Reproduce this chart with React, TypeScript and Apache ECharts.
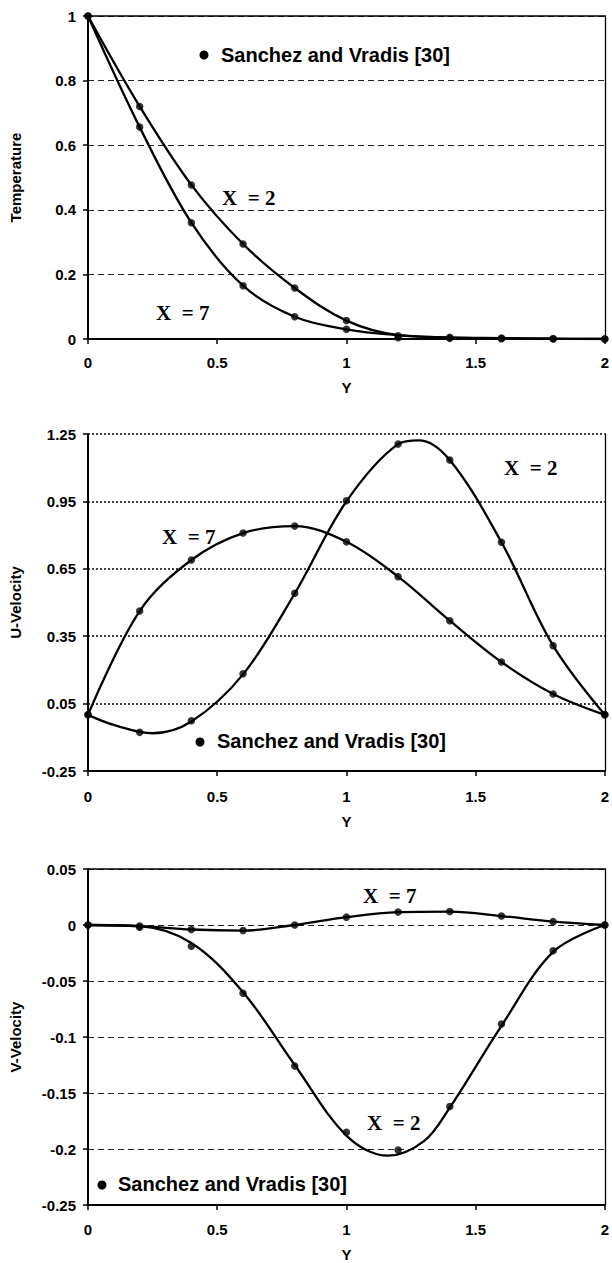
import React, { useEffect, useRef } from "react";
import * as echarts from "echarts";

// ---------- Data ----------
const Y_POS = [0, 0.2, 0.4, 0.6, 0.8, 1.0, 1.2, 1.4, 1.6, 1.8, 2.0];

// Sanchez and Vradis [30] reference points
const tempRefX2 = [1, 0.72, 0.477, 0.294, 0.158, 0.057, 0.01, 0.005, 0.003, 0.001, 0];
const tempRefX7 = [1, 0.656, 0.36, 0.165, 0.069, 0.03, 0.004, 0.002, 0.001, 0.0005, 0];
const uRefX2 = [0, -0.078, -0.026, 0.183, 0.541, 0.953, 1.205, 1.134, 0.768, 0.308, 0];
const uRefX7 = [0, 0.462, 0.689, 0.809, 0.84, 0.77, 0.615, 0.419, 0.235, 0.093, 0];
const vRefX2 = [0, -0.001, -0.019, -0.061, -0.126, -0.185, -0.201, -0.162, -0.0885, -0.023, 0];
const vRefX7 = [0, -0.002, -0.004, -0.005, 0.0, 0.007, 0.0115, 0.012, 0.008, 0.003, 0];

// Present curves, [Y, value]
const tempCurveX2: [number, number][] = [[0, 1], [0.2, 0.72], [0.4, 0.477], [0.6, 0.294], [0.8, 0.158], [1.0, 0.057], [1.2, 0.012], [1.4, 0.005], [1.6, 0.003], [1.8, 0.001], [2, 0]];
const tempCurveX7: [number, number][] = [[0, 1], [0.2, 0.656], [0.4, 0.36], [0.6, 0.165], [0.8, 0.069], [1.0, 0.03], [1.2, 0.012], [1.4, 0.004], [1.6, 0.002], [1.8, 0.001], [2, 0]];
const uCurveX2: [number, number][] = [[0, 0], [0.1, -0.045], [0.25, -0.082], [0.4, -0.03], [0.6, 0.18], [0.8, 0.54], [1.0, 0.95], [1.2, 1.205], [1.28, 1.222], [1.4, 1.134], [1.6, 0.768], [1.8, 0.308], [2, 0]];
const uCurveX7: [number, number][] = [[0, 0], [0.2, 0.462], [0.4, 0.689], [0.6, 0.809], [0.8, 0.84], [1.0, 0.77], [1.2, 0.615], [1.4, 0.419], [1.6, 0.235], [1.8, 0.093], [2, 0]];
const vCurveX2: [number, number][] = [[0, 0], [0.2, -0.001], [0.4, -0.016], [0.6, -0.06], [0.8, -0.125], [1.0, -0.188], [1.16, -0.206], [1.3, -0.193], [1.4, -0.163], [1.6, -0.09], [1.8, -0.024], [2, 0]];
const vCurveX7: [number, number][] = [[0, 0], [0.2, -0.001], [0.4, -0.004], [0.6, -0.005], [0.8, 0], [1.0, 0.007], [1.2, 0.0115], [1.4, 0.012], [1.6, 0.008], [1.8, 0.003], [2, 0]];

const Y_AXIS_NAMES = ["Temperature", "U-Velocity", "V-Velocity"];
const Y_RANGES = [
  { min: 0, max: 1, interval: 0.2 },
  { min: -0.25, max: 1.25, interval: 0.3 },
  { min: -0.25, max: 0.05, interval: 0.05 },
];
const LEGEND_TEXT = "Sanchez and Vradis [30]";

// ---------- Styling ----------
const SANS = '"Liberation Sans", Arial, sans-serif';
const SERIF = '"Liberation Serif", "Times New Roman", serif';

const GRIDS = [
  { left: 86, top: 16, width: 520, height: 323 },
  { left: 86, top: 434, width: 520, height: 337 },
  { left: 86, top: 869, width: 520, height: 338 },
];
const LABEL_MARGIN = [16, 18, 17];
const NAME_GAP = [41, 43, 42];
const SPLIT_STYLES = [
  { type: [6, 4], width: 1, color: "#222" },
  { type: [2, 2], width: 1.6, color: "#000" },
  { type: [6, 4], width: 1, color: "#222" },
];

const fmt = (v: number) => String(parseFloat(Number(v).toFixed(2)));

function zip(ys: number[]): [number, number][] {
  return Y_POS.map((x, i) => [x, ys[i]]);
}

export default function App() {
  const ref = useRef<HTMLDivElement>(null);

  useEffect(() => {
    if (!ref.current) return;
    const chart = echarts.init(ref.current, null, { renderer: "svg" });

    const xAxis: any[] = [];
    const yAxis: any[] = [];
    GRIDS.forEach((_, i) => {
      xAxis.push({
        type: "value",
        gridIndex: i,
        position: "bottom",
        min: 0,
        max: 2,
        interval: 0.5,
        axisLine: { show: true, onZero: false, lineStyle: { color: "#000", width: 2 } },
        axisTick: { show: true, length: 5, lineStyle: { color: "#000", width: 1.5 } },
        axisLabel: {
          margin: LABEL_MARGIN[i],
          fontSize: 15,
          fontWeight: "bold",
          fontFamily: SANS,
          color: "#000",
          formatter: fmt,
        },
        splitLine: { show: false },
        name: "Y",
        nameLocation: "middle",
        nameGap: NAME_GAP[i],
        nameTextStyle: { fontSize: 15, fontWeight: "bold", fontFamily: SANS, color: "#000" },
      });
    });
    // top border axes for charts 1 and 3
    [0, 2].forEach((i) => {
      xAxis.push({
        type: "value",
        gridIndex: i,
        position: "top",
        min: 0,
        max: 2,
        axisLine: { show: true, onZero: false, lineStyle: { color: "#000", width: 1.6 } },
        axisTick: { show: false },
        axisLabel: { show: false },
        splitLine: { show: false },
      });
    });
    GRIDS.forEach((_, i) => {
      yAxis.push({
        type: "value",
        gridIndex: i,
        position: "left",
        min: Y_RANGES[i].min,
        max: Y_RANGES[i].max,
        interval: Y_RANGES[i].interval,
        axisLine: { show: true, onZero: false, lineStyle: { color: "#000", width: 2 } },
        axisTick: { show: true, length: 5, lineStyle: { color: "#000", width: 1.5 } },
        axisLabel: {
          margin: 12,
          fontSize: 15,
          fontWeight: "bold",
          fontFamily: SANS,
          color: "#000",
          formatter: fmt,
        },
        splitLine: { show: true, lineStyle: SPLIT_STYLES[i] },
        name: Y_AXIS_NAMES[i],
        nameLocation: "middle",
        nameGap: 65,
        nameTextStyle: { fontSize: 15, fontWeight: "bold", fontFamily: SANS, color: "#000" },
      });
    });
    GRIDS.forEach((_, i) => {
      yAxis.push({
        type: "value",
        gridIndex: i,
        position: "right",
        min: Y_RANGES[i].min,
        max: Y_RANGES[i].max,
        axisLine: { show: true, onZero: false, lineStyle: { color: "#000", width: 1.3 } },
        axisTick: { show: false },
        axisLabel: { show: false },
        splitLine: { show: false },
      });
    });

    const curves = [
      [tempCurveX2, tempCurveX7],
      [uCurveX2, uCurveX7],
      [vCurveX2, vCurveX7],
    ];
    const refs = [
      [tempRefX2, tempRefX7],
      [uRefX2, uRefX7],
      [vRefX2, vRefX7],
    ];
    const series: any[] = [];
    curves.forEach((pair, i) => {
      ["X = 2", "X = 7"].forEach((nm, k) => {
        series.push({
          type: "line",
          name: nm,
          xAxisIndex: i,
          yAxisIndex: i,
          data: pair[k],
          smooth: 0.35,
          symbol: "none",
          showSymbol: false,
          lineStyle: { color: "#000", width: 2.3 },
        });
      });
      series.push({
        type: "scatter",
        name: LEGEND_TEXT,
        xAxisIndex: i,
        yAxisIndex: i,
        data: [...zip(refs[i][0]), ...zip(refs[i][1])],
        symbol: "circle",
        symbolSize: 7.5,
        itemStyle: { color: "#000" },
        clip: false,
        z: 5,
      });
    });

    const txt = (text: string, x: number, y: number, font: string) => ({
      type: "text",
      x,
      y,
      style: { text, fill: "#000", font, verticalAlign: "middle", align: "left" },
      z: 10,
    });
    const dot = (cx: number, cy: number) => ({
      type: "circle",
      shape: { cx, cy, r: 4.5 },
      style: { fill: "#000" },
      z: 10,
    });
    const LEG_FONT = `bold 20px ${SANS}`;
    const X_FONT = `bold 21px ${SERIF}`;

    const graphic = [
      dot(204, 55),
      txt(LEGEND_TEXT, 221, 55, LEG_FONT),
      txt("X  = 2", 222, 198, X_FONT),
      txt("X  = 7", 156, 313, X_FONT),

      dot(200, 742),
      txt(LEGEND_TEXT, 217, 741, LEG_FONT),
      txt("X  = 2", 504, 468, X_FONT),
      txt("X  = 7", 162, 537, X_FONT),

      dot(102, 1185),
      txt(LEGEND_TEXT, 118, 1184, LEG_FONT),
      txt("X  = 7", 363, 896, X_FONT),
      txt("X  = 2", 367, 1123, X_FONT),
    ];

    chart.setOption({
      animation: false,
      backgroundColor: "#fff",
      grid: GRIDS.map((g) => ({ ...g, containLabel: false })),
      xAxis,
      yAxis,
      series,
      graphic,
    });

    return () => chart.dispose();
  }, []);

  return (
    <div
      ref={ref}
      style={{ position: "fixed", left: 0, top: 0, width: 612, height: 1263, background: "#fff" }}
    />
  );
}
